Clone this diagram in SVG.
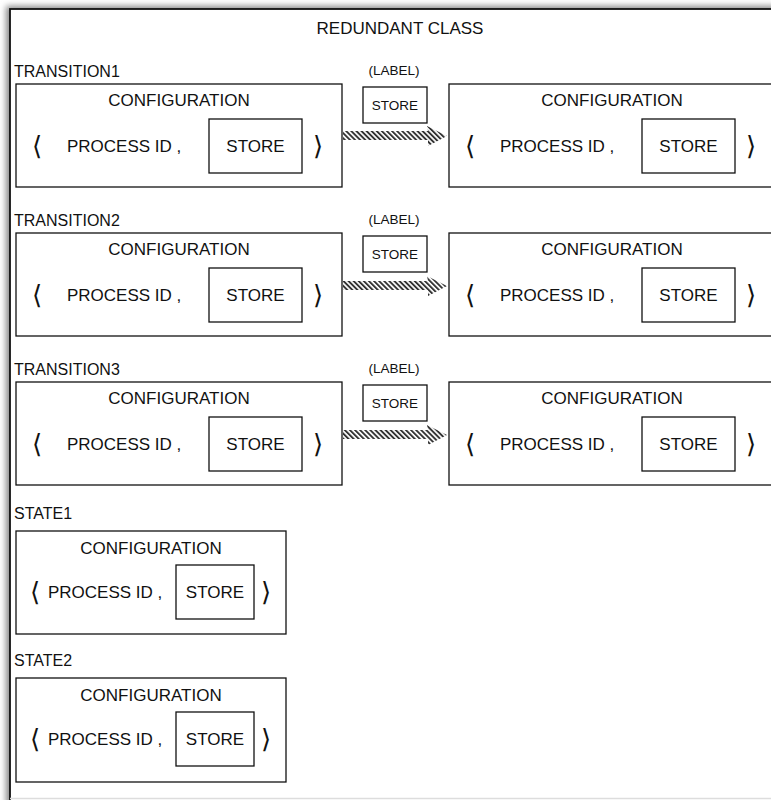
<svg xmlns="http://www.w3.org/2000/svg" width="771" height="800" viewBox="0 0 771 800">
<defs>
<pattern id="hatch" width="3.6" height="3.6" patternUnits="userSpaceOnUse" patternTransform="rotate(-45)">
<rect width="3.6" height="3.6" fill="#fff"/>
<rect width="1.9" height="3.6" fill="#333"/>
</pattern>
<filter id="sh" x="-5%" y="-5%" width="110%" height="110%"><feGaussianBlur stdDeviation="3"/></filter>
<style>
text{font-family:"Liberation Sans",Arial,sans-serif;font-size:17px;fill:#111}
.c{text-anchor:middle}
.l{font-size:16px}
.s{font-size:13.5px}
.b{fill:#fff;stroke:#111;stroke-width:1.3}
.br{font-family:"DejaVu Sans",sans-serif;font-size:26px;text-anchor:middle}
.ar{fill:url(#hatch);stroke:none}
</style>
</defs>
<rect x="6" y="6" width="800" height="800" fill="#888" filter="url(#sh)"/>
<rect x="10" y="9" width="780" height="800" fill="#fff" stroke="#111" stroke-width="1.8"/>
<line x1="10" y1="798.5" x2="771" y2="798.5" stroke="#ddd" stroke-width="1.5"/>
<text id="title" class="c" x="400" y="34">REDUNDANT CLASS</text>

<g id="transition1">
<text class="l" x="14" y="77">TRANSITION1</text>
<g id="t1-src"><rect class="b" x="16" y="84" width="326" height="103"/>
<text class="c" x="179" y="106">CONFIGURATION</text>
<text class="br" x="37" y="155">⟨</text><text x="67" y="152">PROCESS ID ,</text>
<rect class="b" x="209" y="119" width="93" height="54"/><text class="c" x="255.5" y="152">STORE</text>
<text class="br" x="318" y="155">⟩</text></g>
<g id="t1-label"><text class="c s" x="394" y="75">(LABEL)</text>
<rect class="b" x="363" y="87" width="64" height="36"/><text class="c s" x="395" y="110">STORE</text></g>
<g id="t1-dst"><rect class="b" x="449" y="84" width="330" height="103"/>
<text class="c" x="612" y="106">CONFIGURATION</text>
<text class="br" x="470" y="155">⟨</text><text x="500" y="152">PROCESS ID ,</text>
<rect class="b" x="642" y="119" width="93" height="54"/><text class="c" x="688.5" y="152">STORE</text>
<text class="br" x="751" y="155">⟩</text></g>
</g>

<g id="transition2">
<text class="l" x="14" y="226">TRANSITION2</text>
<g id="t2-src"><rect class="b" x="16" y="233" width="326" height="103"/>
<text class="c" x="179" y="255">CONFIGURATION</text>
<text class="br" x="37" y="304">⟨</text><text x="67" y="301">PROCESS ID ,</text>
<rect class="b" x="209" y="268" width="93" height="54"/><text class="c" x="255.5" y="301">STORE</text>
<text class="br" x="318" y="304">⟩</text></g>
<g id="t2-label"><text class="c s" x="394" y="224">(LABEL)</text>
<rect class="b" x="363" y="236" width="64" height="36"/><text class="c s" x="395" y="259">STORE</text></g>
<g id="t2-dst"><rect class="b" x="449" y="233" width="330" height="103"/>
<text class="c" x="612" y="255">CONFIGURATION</text>
<text class="br" x="470" y="304">⟨</text><text x="500" y="301">PROCESS ID ,</text>
<rect class="b" x="642" y="268" width="93" height="54"/><text class="c" x="688.5" y="301">STORE</text>
<text class="br" x="751" y="304">⟩</text></g>
</g>

<g id="transition3">
<text class="l" x="14" y="375">TRANSITION3</text>
<g id="t3-src"><rect class="b" x="16" y="382" width="326" height="103"/>
<text class="c" x="179" y="404">CONFIGURATION</text>
<text class="br" x="37" y="453">⟨</text><text x="67" y="450">PROCESS ID ,</text>
<rect class="b" x="209" y="417" width="93" height="54"/><text class="c" x="255.5" y="450">STORE</text>
<text class="br" x="318" y="453">⟩</text></g>
<g id="t3-label"><text class="c s" x="394" y="373">(LABEL)</text>
<rect class="b" x="363" y="385" width="64" height="36"/><text class="c s" x="395" y="408">STORE</text></g>
<g id="t3-dst"><rect class="b" x="449" y="382" width="330" height="103"/>
<text class="c" x="612" y="404">CONFIGURATION</text>
<text class="br" x="470" y="453">⟨</text><text x="500" y="450">PROCESS ID ,</text>
<rect class="b" x="642" y="417" width="93" height="54"/><text class="c" x="688.5" y="450">STORE</text>
<text class="br" x="751" y="453">⟩</text></g>
</g>

<g id="state1">
<text class="l" x="14" y="519">STATE1</text>
<rect class="b" x="16" y="531" width="270" height="103"/>
<text class="c" x="151" y="554">CONFIGURATION</text>
<text class="br" x="35" y="601">⟨</text><text x="48" y="598">PROCESS ID ,</text>
<rect class="b" x="176" y="565" width="78" height="54"/><text class="c" x="215" y="598">STORE</text>
<text class="br" x="266" y="601">⟩</text>
</g>

<g id="state2">
<text class="l" x="14" y="666">STATE2</text>
<rect class="b" x="16" y="678" width="270" height="104"/>
<text class="c" x="151" y="701">CONFIGURATION</text>
<text class="br" x="35" y="748">⟨</text><text x="48" y="745">PROCESS ID ,</text>
<rect class="b" x="176" y="712" width="78" height="54"/><text class="c" x="215" y="745">STORE</text>
<text class="br" x="266" y="748">⟩</text>
</g>

<g id="connectors">
<polygon class="ar" points="343,131 428,131 427,126 447,136 428,146 428,140 343,140"/>
<polygon class="ar" points="343,281 428,281 427,276 447,286 428,296 428,290 343,290"/>
<polygon class="ar" points="343,430 428,430 427,425 447,435 428,445 428,439 343,439"/>
</g>
</svg>
